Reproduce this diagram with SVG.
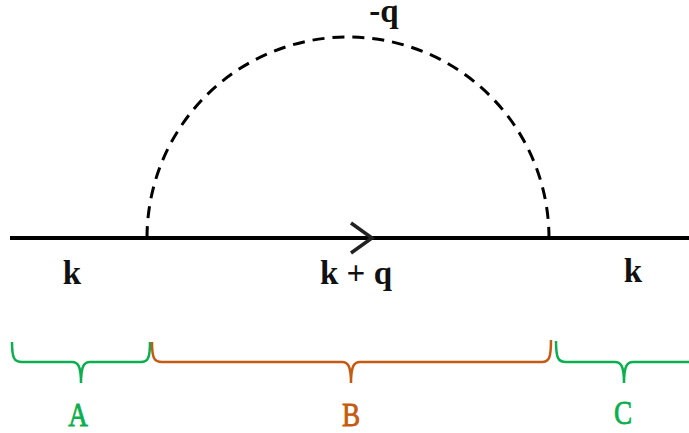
<svg xmlns="http://www.w3.org/2000/svg" width="689" height="433" viewBox="0 0 689 433">
<style>
.lbl{font-family:"Liberation Serif","DejaVu Serif",serif;font-weight:bold;font-size:33px;fill:#111;text-anchor:middle}
.br{font-family:"Liberation Serif","DejaVu Serif",serif;font-size:34px;text-anchor:middle;stroke-width:0.8}
.brace{fill:none;stroke-width:2.5}
.g{stroke:#0AAF4E}.o{stroke:#C55A11}
</style>
<rect width="689" height="433" fill="#fff"/>
<g id="connectors">
<line x1="10" y1="238" x2="689" y2="238" stroke="#000" stroke-width="4"/>
<path d="M147,238 A201,201 0 0 1 549,238" fill="none" stroke="#000" stroke-width="3" stroke-dasharray="12,8"/>
<path d="M351,223 L372,238 L351,253" fill="none" stroke="#222" stroke-width="3.5"/>
</g>
<g id="labels">
<text class="lbl" x="384" y="22" font-size="32">-q</text>
<text class="lbl" x="72" y="284">k</text>
<text class="lbl" x="356" y="284">k + q</text>
<text class="lbl" x="633" y="282">k</text>
</g>
<g id="braceA">
<path class="brace g" d="M12,342 C12,358 14,362 22,362 L72,362 C78,362 81,366 81,383 C81,366 84,362 90,362 L141,362 C148,362 150,358 150,342"/>
<text class="br g" x="78" y="426" fill="#0AAF4E" transform="translate(78 0) scale(0.8 1) translate(-78 0)">A</text>
</g>
<g id="braceB">
<path class="brace o" d="M152,342 C152,358 154,362 162,362 L342,362 C348,362 351,366 351,383 C351,366 354,362 360,362 L542,362 C549,362 551,358 551,340"/>
<text class="br o" x="351" y="426" fill="#C55A11" transform="translate(351 0) scale(0.8 1) translate(-351 0)">B</text>
</g>
<g id="braceC">
<path class="brace g" d="M556,341 C556,358 558,362 566,362 L615,362 C621,362 624,366 624,383 C624,366 627,362 633,362 L689,362"/>
<text class="br g" x="623" y="424" fill="#0AAF4E" transform="translate(623 0) scale(0.8 1) translate(-623 0)">C</text>
</g>
</svg>
